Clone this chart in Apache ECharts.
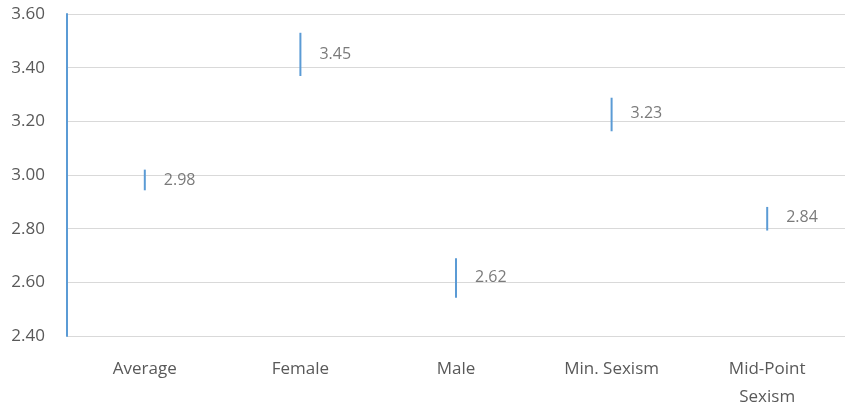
<!DOCTYPE html>
<html><head><meta charset="utf-8">
<script src="https://cdn.jsdelivr.net/npm/echarts@6/dist/echarts.min.js"></script>
<style>html,body{margin:0;padding:0;background:#fff}#c{width:845px;height:411px}</style>
</head><body><div id="c"></div>
<script>
const categories = ['Average', 'Female', 'Male', 'Min. Sexism', 'Mid-Point\nSexism'];
const means = [2.98, 3.45, 2.62, 3.23, 2.84];
const lows = [2.943, 3.369, 2.543, 3.163, 2.793];
const highs = [3.02, 3.530, 2.690, 3.288, 2.881];
const yTicks = [2.4, 2.6, 2.8, 3.0, 3.2, 3.4, 3.6];

const blue = '#5B9BD5';
const textColor = '#595959';
const font = '"Open Sans", sans-serif';

const chart = echarts.init(document.getElementById('c'));
chart.setOption({
  animation: false,
  grid: { left: 67, top: 14, width: 782, height: 327, containLabel: false },
  xAxis: {
    type: 'category', data: categories,
    axisLine: { show: false }, axisTick: { show: false },
    axisLabel: { color: textColor, fontSize: 17, fontFamily: font, margin: 19, lineHeight: 28 }
  },
  yAxis: {
    type: 'value', min: 2.4, max: 3.6, interval: 0.2,
    axisLine: { show: true, lineStyle: { color: blue, width: 2 } },
    axisTick: { show: false },
    splitLine: { lineStyle: { color: '#D9D9D9', width: 1 } },
    axisLabel: { color: textColor, fontSize: 17, fontFamily: font, margin: 22,
      formatter: v => v.toFixed(2) }
  },
  series: [
    {
      type: 'custom',
      data: categories.map((c, i) => [i, lows[i], highs[i]]),
      renderItem: (params, api) => {
        const a = api.coord([api.value(0), api.value(1)]);
        const b = api.coord([api.value(0), api.value(2)]);
        return { type: 'line', shape: { x1: a[0], y1: a[1], x2: b[0], y2: b[1] },
          style: { stroke: blue, lineWidth: 2 } };
      },
      z: 3
    },
    {
      type: 'scatter',
      data: means.map((m, i) => [i, m]),
      symbolSize: 0,
      label: { show: true, position: 'right', distance: 19, color: textColor,
        fontSize: 16, fontFamily: font, formatter: p => p.value[1].toFixed(2) },
      z: 4
    }
  ]
});
</script></body></html>
